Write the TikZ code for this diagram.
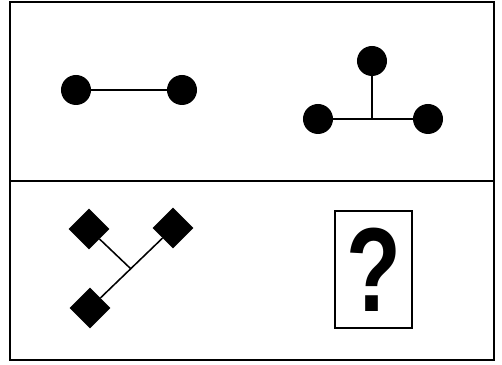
\documentclass[tikz,border=0pt]{standalone}
\usepackage{fontspec}
\setmainfont{Liberation Sans}
\usetikzlibrary{shapes.geometric}
\tikzset{ball/.style={circle,fill=black,inner sep=0pt,minimum size=0.75cm},
         gem/.style={diamond,fill=black,inner sep=0pt,minimum size=1.02cm},
         bond/.style={line width=1.1pt},
         frame/.style={line width=1.2pt},
         qbox/.style={draw,line width=1pt,inner sep=0pt,minimum width=1.925cm,minimum height=2.925cm,
                      font=\fontsize{85}{85}\selectfont\bfseries}}

\begin{document}
\begin{tikzpicture}[x=0.025cm,y=-0.025cm]
\useasboundingbox (0,0) rectangle (502,365);
\draw [frame] (10,2) rectangle (494,360);
\draw [frame] (10,181) -- (494,181);
\node [ball] (a1) at (76,90) {};
\node [ball] (a2) at (182,90) {};
\draw [bond] (a1) -- (a2);
\node [ball] (b1) at (372,61) {};
\node [ball] (b2) at (318,119) {};
\node [ball] (b3) at (428,119) {};
\coordinate (bj) at (372,119);
\draw [bond] (b2) -- (b3);
\draw [bond] (b1) -- (bj);
\node [gem] (c1) at (89,229) {};
\node [gem] (c2) at (173,228) {};
\node [gem] (c3) at (90,308) {};
\coordinate (cj) at (131,269);
\draw [bond] (c3) -- (c2);
\draw [bond] (c1) -- (cj);
\node [qbox] (q) at (373.5,269.5) {\scalebox{0.75}[1]{?}};
\end{tikzpicture}
\end{document}
